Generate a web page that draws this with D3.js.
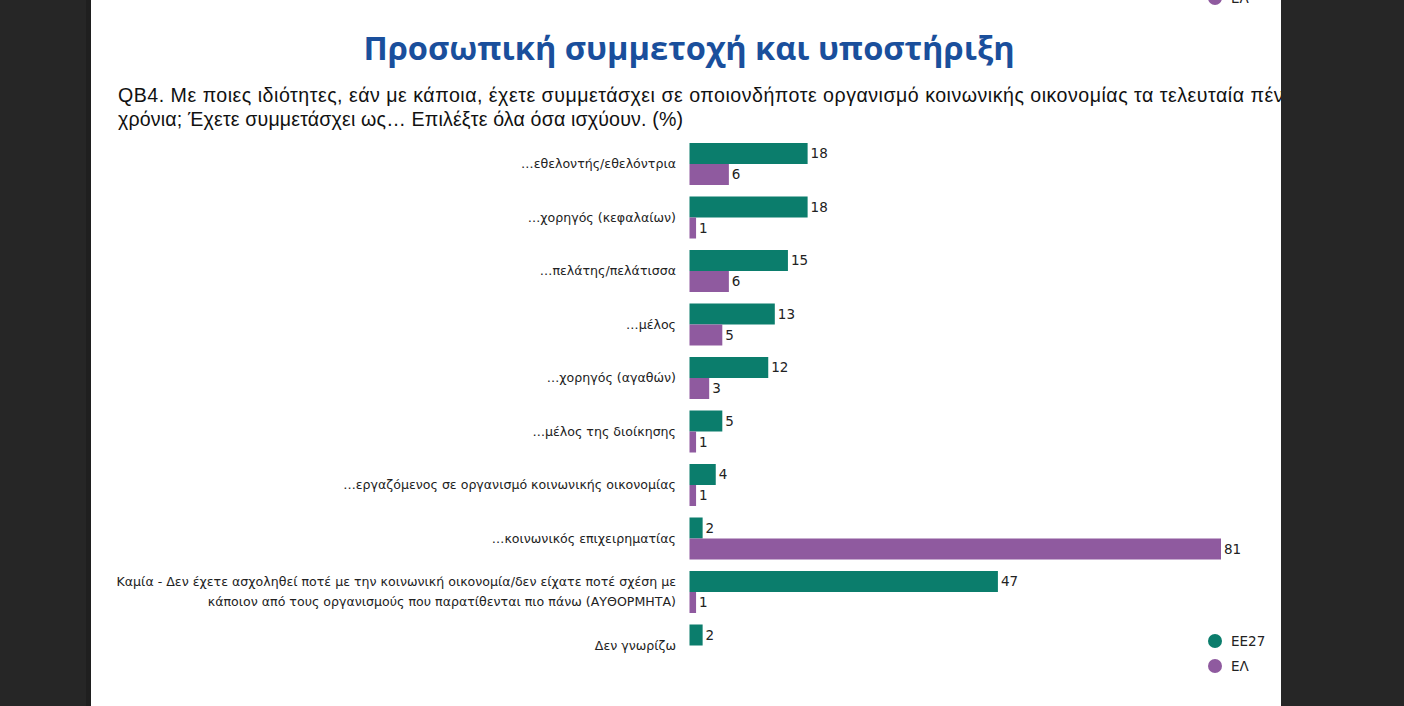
<!DOCTYPE html>
<html><head><meta charset="utf-8">
<script src="https://cdn.jsdelivr.net/npm/d3@7"></script>
<style>html,body{margin:0;padding:0;background:#fff;overflow:hidden}</style>
</head><body>
<svg id="c" width="1404" height="706"></svg>
<script>
const categories = [
  "…εθελοντής/εθελόντρια",
  "…χορηγός (κεφαλαίων)",
  "…πελάτης/πελάτισσα",
  "…μέλος",
  "…χορηγός (αγαθών)",
  "…μέλος της διοίκησης",
  "…εργαζόμενος σε οργανισμό κοινωνικής οικονομίας",
  "…κοινωνικός επιχειρηματίας",
  "Καμία - Δεν έχετε ασχοληθεί ποτέ με την κοινωνική οικονομία/δεν είχατε ποτέ σχέση με|κάποιον από τους οργανισμούς που παρατίθενται πιο πάνω (ΑΥΘΟΡΜΗΤΑ)",
  "Δεν γνωρίζω"
];
const seriesNames = ["ΕΕ27", "ΕΛ"];
const valuesEU27 = [18, 18, 15, 13, 12, 5, 4, 2, 47, 2];
const valuesEL   = [6, 1, 6, 5, 3, 1, 1, 81, 1, null];
const colors = ["#0b7d6c", "#8f5a9f"];
const title = "Προσωπική συμμετοχή και υποστήριξη";
const subtitleLines = [
  "QB4. Με ποιες ιδιότητες, εάν με κάποια, έχετε συμμετάσχει σε οποιονδήποτε οργανισμό κοινωνικής οικονομίας τα τελευταία πέντε",
  "χρόνια; Έχετε συμμετάσχει ως… Επιλέξτε όλα όσα ισχύουν. (%)"
];
const subtitleWidths = [1183, 565];

const svg = d3.select("#c");
const rows = categories.map((c, i) => ({cat: c, vals: [valuesEU27[i], valuesEL[i]]}));

const x = d3.scaleLinear().domain([0, 81]).range([689.5, 1221]);
const y = d3.scaleBand().domain(categories).range([137.25, 672.25]).paddingInner(0.215).paddingOuter(0.1075);
const ys = d3.scaleBand().domain(seriesNames).range([0, y.bandwidth()]);

// title
svg.append("text").attr("x", 689).attr("y", 60).attr("text-anchor", "middle")
  .attr("font-family", "'Open Sans', sans-serif").attr("font-weight", 700).attr("font-size", 32.6)
  .attr("fill", "#1a4f9c").text(title);

svg.selectAll("text.sub").data(subtitleLines).join("text").attr("class", "sub")
  .attr("x", 118).attr("y", (d, i) => 102 + i * 24)
  .attr("font-family", "'Liberation Sans', Arial, sans-serif").attr("font-size", 19.6).attr("fill", "#111")
  .attr("textLength", (d, i) => subtitleWidths[i]).attr("lengthAdjust", "spacing")
  .text(d => d);

const g = svg.selectAll("g.row").data(rows).join("g").attr("class", "row")
  .attr("transform", d => `translate(0,${y(d.cat)})`);

g.selectAll("rect").data(d => d.vals.map((v, k) => ({v, s: seriesNames[k], k})).filter(e => e.v != null))
  .join("rect")
  .attr("x", x(0)).attr("y", e => ys(e.s))
  .attr("width", e => x(e.v) - x(0)).attr("height", ys.bandwidth())
  .attr("fill", e => colors[e.k]);

g.selectAll("text.val").data(d => d.vals.map((v, k) => ({v, s: seriesNames[k], k})).filter(e => e.v != null))
  .join("text").attr("class", "val")
  .attr("x", e => x(e.v) + 3).attr("y", e => ys(e.s) + ys.bandwidth() / 2 + 5)
  .attr("font-family", "'DejaVu Sans', sans-serif").attr("font-size", 13.5).attr("fill", "#222")
  .text(e => e.v);

g.each(function(d) {
  const lines = d.cat.split("|");
  const t = d3.select(this).append("text")
    .attr("text-anchor", "end")
    .attr("font-family", "'DejaVu Sans', sans-serif").attr("font-size", 12.6).attr("fill", "#222");
  const c = y.bandwidth() / 2 + 4.5;
  const lh = 20;
  lines.forEach((ln, i) => {
    t.append("tspan").attr("x", 676).attr("y", c + (i - (lines.length - 1) / 2) * lh).text(ln);
  });
});

// legends
function legend(gy) {
  const lg = svg.append("g");
  lg.selectAll("circle").data(seriesNames).join("circle")
    .attr("cx", 1215).attr("cy", (d, i) => gy + i * 25).attr("r", 7)
    .attr("fill", (d, i) => colors[i]);
  lg.selectAll("text").data(seriesNames).join("text")
    .attr("x", 1231).attr("y", (d, i) => gy + i * 25 + 5)
    .attr("font-family", "'DejaVu Sans', sans-serif").attr("font-size", 13.5).attr("fill", "#222")
    .text(d => d);
}
legend(641);
legend(-27);

// dark side panels
svg.append("rect").attr("x", 0).attr("y", 0).attr("width", 91).attr("height", 706).attr("fill", "#262626");
svg.append("rect").attr("x", 1281).attr("y", 0).attr("width", 123).attr("height", 706).attr("fill", "#262626");
svg.append("rect").attr("x", 86).attr("y", 0).attr("width", 5).attr("height", 706).attr("fill", "#1f1f1f");
</script>
</body></html>
